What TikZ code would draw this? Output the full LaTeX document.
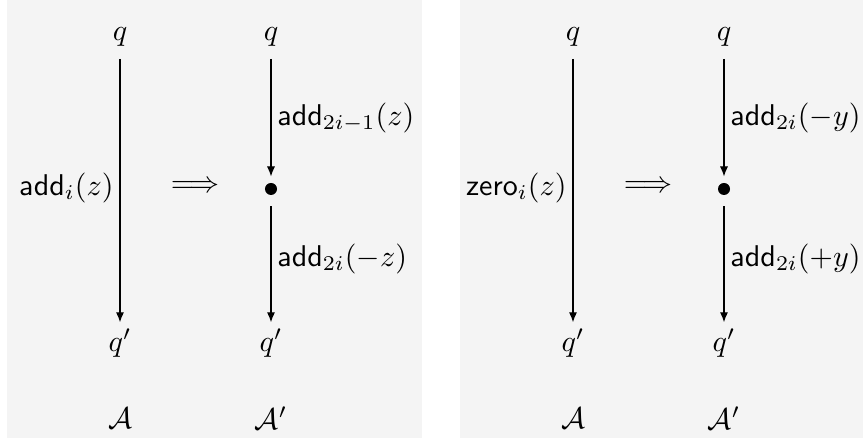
\documentclass[tikz,border=0pt]{standalone}
\usepackage{amsmath}
\usetikzlibrary{arrows.meta}
\definecolor{cFondo}{HTML}{F4F4F4}

\begin{document}
\begin{tikzpicture}[
    x=0.01171cm, y=-0.01171cm,
    pnl/.style={fill=cFondo, draw=none},
    st/.style={inner sep=2pt},
    tr/.style={-{Latex[length=3.3pt, width=2.7pt]}, line width=0.35pt},
    lbl/.style={midway, inner sep=2pt},
    pto/.style={circle, fill=black, inner sep=0pt, minimum size=4pt},
]

\useasboundingbox (0,0) rectangle (863,443);

\def\dx{151}   % separación entre A y A'

% ===================== Los dos paneles: add y zero =====================
\foreach \ox/\lo/\la/\lb [count=\k] in {
    120/{\mathsf{add}_i(z)}/{\mathsf{add}_{2i-1}(z)}/{\mathsf{add}_{2i}(-z)},
    573/{\mathsf{zero}_i(z)}/{\mathsf{add}_{2i}(-y)}/{\mathsf{add}_{2i}(+y)}} {
    \fill[pnl] ({\ox-113},0) rectangle ({min(\ox+302,863)},438);

    % Autómata original
    \node[st] (p\k) at (\ox,37) {$q$};
    \node[st] (p\k') at (\ox,343) {$q'$};
    \node (A\k) at (\ox,418) {$\mathcal{A}$};
    \draw[tr, shorten <=2pt] (p\k) -- node[lbl, left] {$\lo$} (p\k');

    \node (imp\k) at ({\ox+75},187) {$\Longrightarrow$};

    % Autómata transformado, con un estado intermedio
    \node[st] (r\k) at ({\ox+\dx},37) {$q$};
    \node[pto] (m\k) at ({\ox+\dx},189) {};
    \node[st] (r\k') at ({\ox+\dx},343) {$q'$};
    \node (B\k) at ({\ox+\dx},418) {$\mathcal{A}'$};
    \draw[tr, shorten <=2pt, shorten >=2pt] (r\k) -- node[lbl, right] {$\la$} (m\k);
    \draw[tr, shorten <=3.5pt] (m\k) -- node[lbl, right] {$\lb$} (r\k');
}

\end{tikzpicture}
\end{document}
